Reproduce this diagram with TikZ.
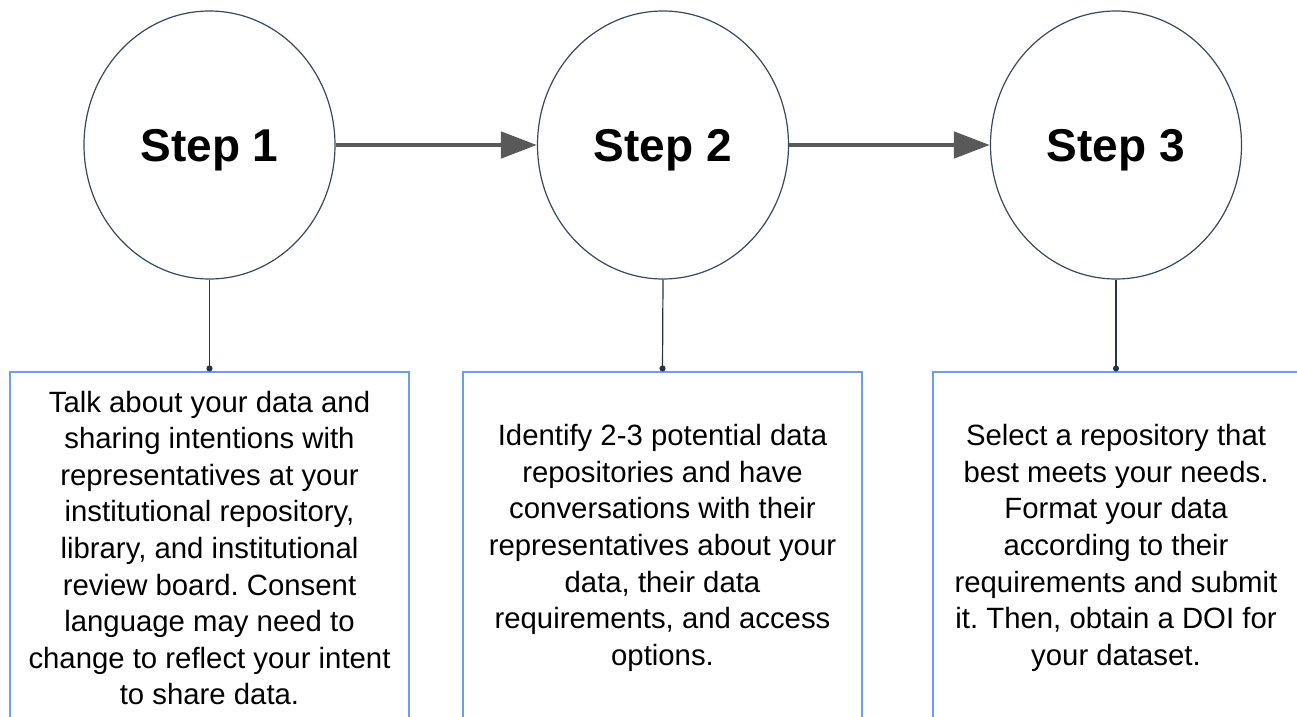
\documentclass[tikz,border=0pt]{standalone}
\usepackage{fontspec}
\setmainfont{Liberation Sans}
\usetikzlibrary{shapes.geometric,arrows.meta}
\frenchspacing

\definecolor{ringcol}{RGB}{52,74,96}
\definecolor{arrowcol}{RGB}{89,89,89}
\definecolor{boxcol}{RGB}{109,158,235}
\definecolor{linkcol}{RGB}{36,52,68}

\tikzset{
  stepcircle/.style={ellipse, draw=ringcol, line width=0.9pt, minimum width=188.25pt, minimum height=201pt, inner sep=0pt, text depth=0pt, font=\fontsize{34.5pt}{40pt}\selectfont\bfseries},
  notebox/.style={rectangle, draw=boxcol, line width=0.8pt, minimum width=299.25pt, minimum height=264pt, inner sep=0pt, align=center, font=\fontsize{22pt}{27.45pt}\selectfont},
  flowarrow/.style={draw=arrowcol, line width=3.6pt, -{Triangle[length=27pt, width=19.5pt]}},
  link/.style={draw=linkcol, line width=0.9pt, -{Circle[length=4.5pt]}}
}

\begin{document}
\begin{tikzpicture}[x=0.75pt,y=0.75pt,yscale=-1,xscale=1]
\useasboundingbox (0,0) rectangle (1297,717);
\clip (0,0) rectangle (1297,717);

%Shape: Ellipse
\node [stepcircle] (step1) at (209.5,145) {Step 1};
%Shape: Ellipse
\node [stepcircle] (step2) at (663,145) {Step 2};
%Shape: Ellipse
\node [stepcircle] (step3) at (1116,145) {Step 3};

%Shape: Rectangle
\node [notebox] (note1) at (209.5,548) {Talk about your data and\\sharing intentions with\\representatives at your\\institutional repository,\\library, and institutional\\review board. Consent\\language may need to\\change to reflect your intent\\to share data.};
%Shape: Rectangle
\node [notebox] (note2) at (662.5,548) {Identify 2-3 potential data\\repositories and have\\conversations with their\\representatives about your\\data, their data\\requirements, and access\\options.};
%Shape: Rectangle
\node [notebox, minimum width=274.5pt] (note3) at (1116,548) {Select a repository that\\best meets your needs.\\Format your data\\according to their\\requirements and submit\\it. Then, obtain a DOI for\\your dataset.};

%Straight Lines
\draw [flowarrow] (step1.east) -- (step2.west);
\draw [flowarrow] (step2.east) -- (step3.west);

%Straight Lines
\draw [link] (step1.south) -- (note1.north);
\draw [link] (step2.south) -- (note2.north);
\draw [link] (step3.south) -- (note3.north);

\end{tikzpicture}
\end{document}
